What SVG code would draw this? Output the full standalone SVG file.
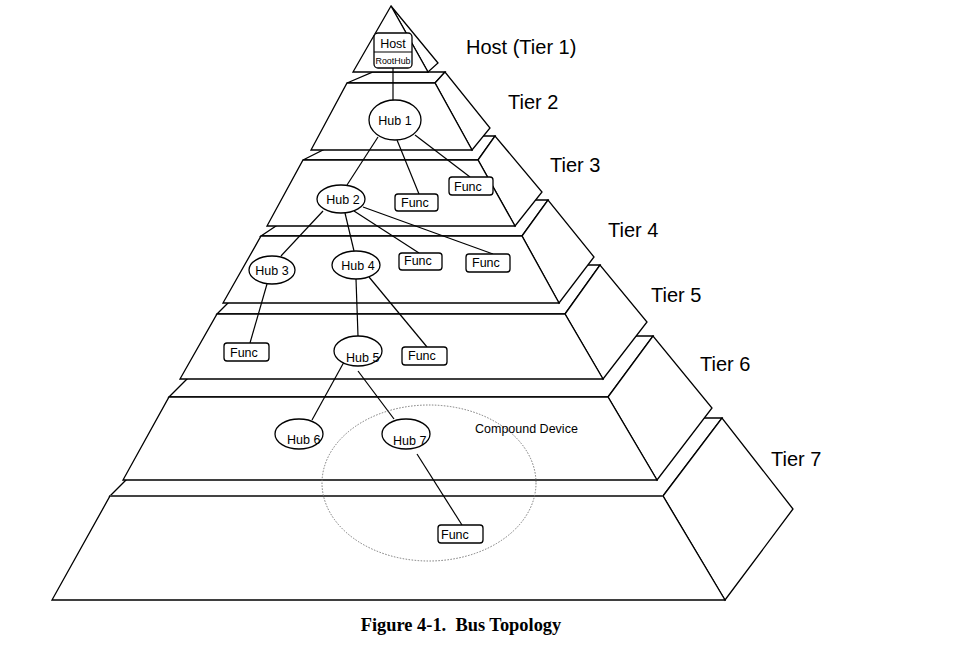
<svg xmlns="http://www.w3.org/2000/svg" width="955" height="656" viewBox="0 0 955 656">
<style>
.slab{fill:#fff;stroke:#000;stroke-width:1.3;stroke-linejoin:miter}
.lbl{font-family:"Liberation Sans",Arial,sans-serif;font-size:20px;fill:#000}
.t{font-family:"Liberation Sans",Arial,sans-serif;font-size:12.5px;fill:#000}
.tc{text-anchor:middle}
.hub{fill:#fff;stroke:#000;stroke-width:1.3}
.fn{fill:#fff;stroke:#000;stroke-width:1.3}
.cn line{stroke:#000;stroke-width:1.2}
.cap{font-family:"Liberation Serif","Times New Roman",serif;font-size:18.4px;font-weight:bold;fill:#000}
</style>
<rect width="955" height="656" fill="#fff"/>
<g id="pyramid">
  <g id="tier7">
    <polygon class="slab" points="110,496 188,418 722,418 663,496"/>
    <polygon class="slab" points="663,496 722,418 793,509 725,600"/>
    <polygon class="slab" points="110,496 663,496 725,600 52,600"/>
    <line x1="110" y1="496" x2="663" y2="496" stroke="#444" stroke-width="2.2"/>
  </g>
  <g id="tier6">
    <polygon class="slab" points="169,397 230,336 653,336 608,397"/>
    <polygon class="slab" points="608,397 653,336 712,408 657,480"/>
    <polygon class="slab" points="169,397 608,397 657,480 123,480"/>
  </g>
  <g id="tier5">
    <polygon class="slab" points="217,314 266,265 600,265 565,314"/>
    <polygon class="slab" points="565,314 600,265 647,322 603,379"/>
    <polygon class="slab" points="217,314 565,314 603,379 180,379"/>
  </g>
  <g id="tier4">
    <polygon class="slab" points="261,236 315,200 548,200 522,236"/>
    <polygon class="slab" points="522,236 548,200 594,257 559,303"/>
    <polygon class="slab" points="261,236 522,236 559,303 223,303"/>
  </g>
  <g id="tier3">
    <polygon class="slab" points="303,160 351,136 495,136 478,160"/>
    <polygon class="slab" points="478,160 495,136 542,192 515,226"/>
    <polygon class="slab" points="303,160 478,160 515,226 267,226"/>
  </g>
  <g id="tier2">
    <polygon class="slab" points="347,83 373,72 445,72 435,83"/>
    <polygon class="slab" points="435,83 445,72 490,128 472,150"/>
    <polygon class="slab" points="347,83 435,83 472,150 311,150"/>
  </g>
  <g id="tier1">
    <polygon class="slab" points="391,6 438,63 428,72"/>
    <polygon class="slab" points="391,6 428,72 353,72"/>
  </g>
</g>
<g id="labels">
  <text class="lbl" x="466" y="54">Host (Tier 1)</text>
  <text class="lbl" x="508" y="109">Tier 2</text>
  <text class="lbl" x="550" y="172">Tier 3</text>
  <text class="lbl" x="608" y="237">Tier 4</text>
  <text class="lbl" x="651" y="302">Tier 5</text>
  <text class="lbl" x="700" y="371">Tier 6</text>
  <text class="lbl" x="771" y="466">Tier 7</text>
</g>
<g id="connectors" class="cn">
  <line x1="393" y1="68" x2="393" y2="100"/>
  <line x1="378" y1="137" x2="347" y2="185"/>
  <line x1="397" y1="140" x2="419" y2="194"/>
  <line x1="415" y1="135" x2="470" y2="177"/>
  <line x1="323" y1="211" x2="281" y2="256"/>
  <line x1="345" y1="213" x2="354" y2="251"/>
  <line x1="354" y1="211" x2="419" y2="253"/>
  <line x1="363" y1="207" x2="493" y2="254"/>
  <line x1="267" y1="284" x2="250" y2="343"/>
  <line x1="356" y1="279" x2="358" y2="336"/>
  <line x1="369" y1="277" x2="427" y2="347"/>
  <line x1="344" y1="362" x2="312" y2="420"/>
  <line x1="358" y1="371" x2="394" y2="419"/>
  <line x1="417" y1="454" x2="462" y2="525"/>
</g>
<g id="host">
  <rect class="fn" x="374" y="33" width="38" height="35" rx="4"/>
  <line x1="374" y1="52" x2="412" y2="52" stroke="#000" stroke-width="1.2"/>
  <text class="t tc" x="393" y="48">Host</text>
  <text class="t tc" x="393" y="64" style="font-size:9px" textLength="35" lengthAdjust="spacingAndGlyphs">RootHub</text>
</g>
<g id="hub1"><ellipse class="hub" cx="395" cy="120" rx="26" ry="20"/><text class="t tc" x="395" y="125">Hub 1</text></g>
<g id="hub2"><ellipse class="hub" cx="341" cy="199" rx="24" ry="14"/><text class="t tc" x="343" y="204">Hub 2</text></g>
<g id="hub3"><ellipse class="hub" cx="272" cy="270" rx="23" ry="14"/><text class="t tc" x="272" y="275">Hub 3</text></g>
<g id="hub4"><ellipse class="hub" cx="356" cy="265" rx="24" ry="14"/><text class="t tc" x="358" y="270">Hub 4</text></g>
<g id="hub5"><ellipse class="hub" cx="358" cy="351" rx="24" ry="15"/><text class="t" x="346" y="362">Hub 5</text></g>
<g id="hub6"><ellipse class="hub" cx="299" cy="434" rx="24" ry="15"/><text class="t" x="287" y="444">Hub 6</text></g>
<g id="hub7"><ellipse class="hub" cx="406" cy="434" rx="24" ry="15"/><text class="t" x="393" y="445">Hub 7</text></g>
<g id="func-t3a"><rect class="fn" x="395" y="194" width="43" height="17" rx="3"/><text class="t" x="401" y="207">Func</text></g>
<g id="func-t3b"><rect class="fn" x="449" y="177" width="44" height="18" rx="3"/><text class="t" x="454" y="191">Func</text></g>
<g id="func-t4a"><rect class="fn" x="399" y="253" width="43" height="17" rx="3"/><text class="t" x="404" y="265">Func</text></g>
<g id="func-t4b"><rect class="fn" x="466" y="254" width="44" height="18" rx="3"/><text class="t" x="472" y="267">Func</text></g>
<g id="func-t5a"><rect class="fn" x="224" y="343" width="45" height="18" rx="3"/><text class="t" x="230" y="357">Func</text></g>
<g id="func-t5b"><rect class="fn" x="402" y="347" width="45" height="18" rx="3"/><text class="t" x="408" y="360">Func</text></g>
<g id="func-t7"><rect class="fn" x="438" y="525" width="45" height="18" rx="3"/><text class="t" x="441" y="539">Func</text></g>
<g id="compound">
  <ellipse cx="429" cy="483" rx="107" ry="78" fill="none" stroke="#777" stroke-width="1" stroke-dasharray="1.5 1.5"/>
  <text class="t" x="475" y="433" style="font-size:12.5px">Compound Device</text>
</g>
<text class="cap" x="461" y="631" text-anchor="middle" xml:space="preserve">Figure 4-1.  Bus Topology</text>
</svg>
